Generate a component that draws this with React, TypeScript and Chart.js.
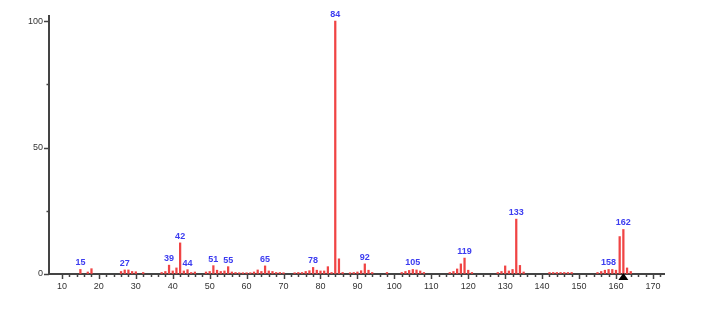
import React, { useEffect, useRef } from "react";
import { Chart, registerables } from "chart.js";

Chart.register(...registerables);

const mzValues = [
  15, 17, 18,
  26, 27, 28, 29, 30, 32,
  37, 38, 39, 40, 41, 42, 43, 44, 45, 46,
  49, 50, 51, 52, 53, 54, 55, 56, 57, 58, 59, 60, 61, 62, 63, 64, 65, 66, 67, 68, 69, 70,
  73, 74, 75, 76, 77, 78, 79, 80, 81, 82, 83, 84, 85, 86,
  88, 89, 90, 91, 92, 93, 94,
  98, 102, 103, 104, 105, 106, 107, 108,
  115, 116, 117, 118, 119, 120, 121,
  128, 129, 130, 131, 132, 133, 134, 135,
  142, 143, 144, 145, 146, 147, 148,
  155, 156, 157, 158, 159, 160, 161, 162, 163, 164,
];

const intensities = [
  1.8, 0.8, 2.1,
  1.0, 1.6, 1.6, 1.0, 0.9, 0.6,
  0.6, 1.0, 3.5, 1.2, 2.4, 12.3, 1.2, 1.7, 0.6, 0.8,
  0.8, 1.0, 3.3, 1.5, 1.0, 1.2, 2.9, 0.8, 0.6, 0.5, 0.5, 0.5, 0.5, 0.8, 1.6, 1.0, 3.2, 1.2, 1.0, 0.6, 0.6, 0.5,
  0.5, 0.6, 0.6, 1.0, 1.3, 2.6, 1.5, 1.2, 1.2, 2.9, 0.6, 100, 6.0, 0.6,
  0.5, 0.6, 0.8, 1.3, 4.0, 1.5, 0.6,
  0.6, 0.6, 1.0, 1.4, 1.8, 1.6, 1.2, 0.6,
  0.6, 1.0, 2.0, 4.0, 6.3, 1.5, 0.6,
  0.6, 1.0, 3.2, 1.2, 1.8, 21.7, 3.4, 0.8,
  0.6, 0.6, 0.6, 0.6, 0.6, 0.6, 0.6,
  0.6, 1.0, 1.5, 1.8, 1.8, 1.5, 14.8, 17.6, 2.4, 1.0,
];

const labeledPeaks = [15, 27, 39, 42, 44, 51, 55, 65, 78, 84, 92, 105, 119, 133, 158, 162];
const markerMz = 162;
const xTickLabels = [10, 20, 30, 40, 50, 60, 70, 80, 90, 100, 110, 120, 130, 140, 150, 160, 170];
const yTickLabels = [0, 50, 100];

const FONT = '"Liberation Sans", Arial, Helvetica, sans-serif';
const AXIS_COLOR = "#444444";

const decorPlugin = {
  id: "decor",
  afterDatasetsDraw(chart: any) {
    const ctx = chart.ctx;
    const xs = chart.scales.x;
    const ys = chart.scales.y;
    const area = chart.chartArea;
    ctx.save();
    ctx.strokeStyle = AXIS_COLOR;
    ctx.lineWidth = 1.5;
    for (let v = 10; v <= 172; v += 2) {
      const px = Math.round(xs.getPixelForValue(v)) + 0.5;
      const major = v % 10 === 0;
      ctx.beginPath();
      ctx.moveTo(px, area.bottom);
      ctx.lineTo(px, area.bottom + (major ? 5 : 3));
      ctx.stroke();
    }
    for (let v = 0; v <= 100; v += 25) {
      const py = Math.round(ys.getPixelForValue(v)) + 0.5;
      const major = v % 50 === 0;
      ctx.beginPath();
      ctx.moveTo(area.left, py);
      ctx.lineTo(area.left - (major ? 5 : 2.5), py);
      ctx.stroke();
    }
    const meta = chart.getDatasetMeta(0);
    ctx.fillStyle = "#3c3cf0";
    ctx.font = "bold 9px " + FONT;
    ctx.textAlign = "center";
    ctx.textBaseline = "bottom";
    labeledPeaks.forEach((mz) => {
      const i = mzValues.indexOf(mz);
      if (i < 0) return;
      const el = meta.data[i];
      ctx.fillText(String(mz), el.x, el.y - 2);
    });
    const tx = xs.getPixelForValue(markerMz);
    ctx.fillStyle = "#000";
    ctx.beginPath();
    ctx.moveTo(tx, area.bottom - 1);
    ctx.lineTo(tx - 5, area.bottom + 6);
    ctx.lineTo(tx + 5, area.bottom + 6);
    ctx.closePath();
    ctx.fill();
    ctx.restore();
  },
};

export default function App() {
  const ref = useRef<HTMLCanvasElement>(null);
  useEffect(() => {
    if (!ref.current) return;
    const chart = new Chart(ref.current, {
      type: "bar",
      data: {
        datasets: [
          {
            data: mzValues.map((x, i) => ({ x, y: intensities[i] })),
            backgroundColor: "#f04444",
            borderWidth: 0,
            barThickness: 1.6,
          },
        ],
      },
      options: {
        animation: false,
        responsive: false,
        layout: { padding: { top: 16, right: 56, left: 0, bottom: 0 } },
        plugins: { legend: { display: false }, tooltip: { enabled: false } },
        scales: {
          x: {
            type: "linear",
            min: 6.5,
            max: 173,
            offset: false,
            afterFit: (s: any) => {
              s.height = 35;
            },
            afterBuildTicks: (s: any) => {
              s.ticks = xTickLabels.map((v) => ({ value: v }));
            },
            border: { display: true, color: AXIS_COLOR, width: 2 },
            grid: { display: true, drawOnChartArea: false, drawTicks: true, tickLength: 5, tickColor: "rgba(0,0,0,0)" },
            ticks: {
              autoSkip: false,
              maxRotation: 0,
              padding: 2,
              color: "#333",
              font: { family: FONT, size: 9 },
              callback: (v: any) => String(v),
            },
          },
          y: {
            min: 0,
            max: 102,
            afterFit: (s: any) => {
              s.width = 49;
            },
            afterBuildTicks: (s: any) => {
              s.ticks = yTickLabels.map((v) => ({ value: v }));
            },
            border: { display: true, color: AXIS_COLOR, width: 2 },
            grid: { display: true, drawOnChartArea: false, drawTicks: true, tickLength: 5, tickColor: "rgba(0,0,0,0)" },
            ticks: {
              autoSkip: false,
              padding: 1,
              color: "#333",
              font: { family: FONT, size: 9 },
              callback: (v: any) => String(v),
            },
          },
        },
      },
      plugins: [decorPlugin],
    });
    return () => chart.destroy();
  }, []);
  return (
    <div style={{ position: "fixed", left: 0, top: 0, width: 720, height: 309, background: "#fff" }}>
      <canvas ref={ref} width={720} height={309} style={{ display: "block" }} />
    </div>
  );
}
